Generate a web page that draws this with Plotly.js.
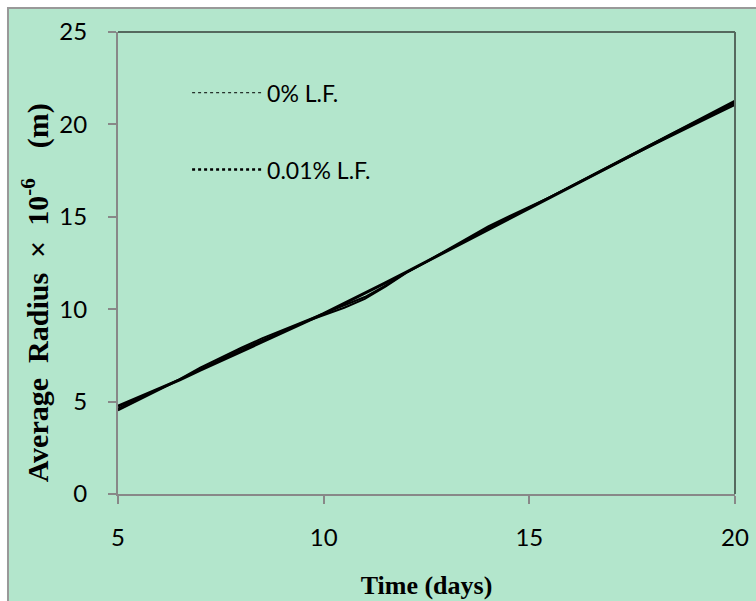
<!DOCTYPE html>
<html>
<head>
<meta charset="utf-8">
<script src="https://cdn.plot.ly/plotly-3.0.1.min.js"></script>
<style>html,body{margin:0;padding:0;background:#fff;}#chart{width:756px;height:601px;}</style>
</head>
<body>
<div id="chart"></div>
<script>
// Time (days)
const timeDays = [5,5.5,6,6.5,7,7.5,8,8.5,9,9.5,10,10.5,11,11.5,12,12.5,13,13.5,14,14.5,15,15.5,16,16.5,17,17.5,18,18.5,19,19.5,20];
// smooth trend line
const trendRadius = [4.75,5.22,5.70,6.18,6.70,7.20,7.70,8.20,8.72,9.24,9.76,10.30,10.86,11.42,12.00,12.58,13.14,13.70,14.28,14.86,15.44,16.02,16.60,17.18,17.76,18.34,18.92,19.50,20.06,20.62,21.18];
// 0% L.F.
const radius0 = [4.62,5.15,5.68,6.22,6.84,7.40,7.92,8.42,8.86,9.30,9.74,10.18,10.66,11.28,11.98,12.58,13.20,13.82,14.48,15.02,15.52,16.06,16.62,17.20,17.78,18.33,18.88,19.44,19.98,20.52,21.05];
// 0.01% L.F.
const radius001 = [4.52,5.08,5.66,6.20,6.74,7.30,7.84,8.34,8.80,9.28,9.70,10.08,10.56,11.22,11.95,12.55,13.16,13.78,14.40,14.94,15.48,16.06,16.64,17.22,17.80,18.38,18.95,19.52,20.08,20.66,21.28];
const seriesNames = ["0% L.F.", "0.01% L.F."];
const xTicks = [5,10,15,20];
const yTicks = [0,5,10,15,20,25];

const bg = '#b3e6cc';
const traces = [
  {x: timeDays, y: trendRadius, mode: 'lines', line: {color: '#000', width: 3}, showlegend: false, hoverinfo: 'skip'},
  {x: timeDays, y: radius0, mode: 'lines', line: {color: '#000', width: 2}, showlegend: false, legendgroup: 'a'},
  {x: timeDays, y: radius001, mode: 'lines', line: {color: '#000', width: 2}, showlegend: false, legendgroup: 'b'},
  {x: [null], y: [null], name: seriesNames[0], mode: 'lines', line: {color: '#000', width: 1, dash: 'dot'}, legendgroup: 'a'},
  {x: [null], y: [null], name: seriesNames[1], mode: 'lines', line: {color: '#000', width: 2.5, dash: 'dot'}, legendgroup: 'b'}
];

const tickFont = {family: 'Lato, "Open Sans", sans-serif', size: 24, color: '#000'};
const legendFont = {family: 'Lato, "Open Sans", sans-serif', size: 23, color: '#000'};
const titleFont = {family: '"Liberation Serif", "Times New Roman", serif', size: 26, color: '#000', weight: 'bold'};
const yTitleFont = {family: '"Liberation Serif", "Times New Roman", serif', size: 30, color: '#000', weight: 'bold'};

const layout = {
  width: 756, height: 601,
  margin: {l: 118, r: 21, t: 32, b: 107, pad: 0},
  paper_bgcolor: '#ffffff',
  plot_bgcolor: bg,
  showlegend: true,
  legend: {x: 0.112, y: 0.915, xanchor: 'left', yanchor: 'top', bgcolor: 'rgba(0,0,0,0)', font: legendFont,
           traceorder: 'grouped', tracegroupgap: 44, itemwidth: 70},
  xaxis: {range: [5, 20], tickvals: xTicks, ticks: 'outside', ticklen: 8, tickwidth: 2, tickcolor: '#888',
          showline: true, linecolor: '#888', linewidth: 2, showgrid: false, zeroline: false,
          tickfont: tickFont, ticklabelstandoff: 13,
          title: {text: '<b>Time (days)</b>', font: titleFont, standoff: 26}},
  yaxis: {range: [0, 25], tickvals: yTicks, ticks: 'outside', ticklen: 8, tickwidth: 2, tickcolor: '#888',
          showline: true, linecolor: '#888', linewidth: 2, showgrid: false, zeroline: false,
          tickfont: tickFont, ticklabelstandoff: 16},
  shapes: [
    {type: 'rect', xref: 'paper', yref: 'paper', x0: -0.1783, x1: 1.1, y0: -0.3, y1: 1.0519,
     fillcolor: bg, line: {color: '#999', width: 2}, layer: 'below'},
    {type: 'line', xref: 'paper', yref: 'paper', x0: 0, x1: 1, y0: 1, y1: 1, line: {color: '#55695e', width: 2}},
    {type: 'line', xref: 'paper', yref: 'paper', x0: 1, x1: 1, y0: 0, y1: 1, line: {color: '#55695e', width: 2}}
  ],
  annotations: [
    {text: '<b>Average&nbsp; Radius&nbsp; ×&nbsp; 10<sup>-6</sup>&nbsp;&nbsp;&nbsp; (m)</b>', xref: 'paper', yref: 'paper', x: -0.134, y: 0.435,
     xanchor: 'center', yanchor: 'middle', textangle: -90, showarrow: false, font: yTitleFont}
  ]
};

Plotly.newPlot('chart', traces, layout, {displayModeBar: false, staticPlot: true});
</script>
</body>
</html>
